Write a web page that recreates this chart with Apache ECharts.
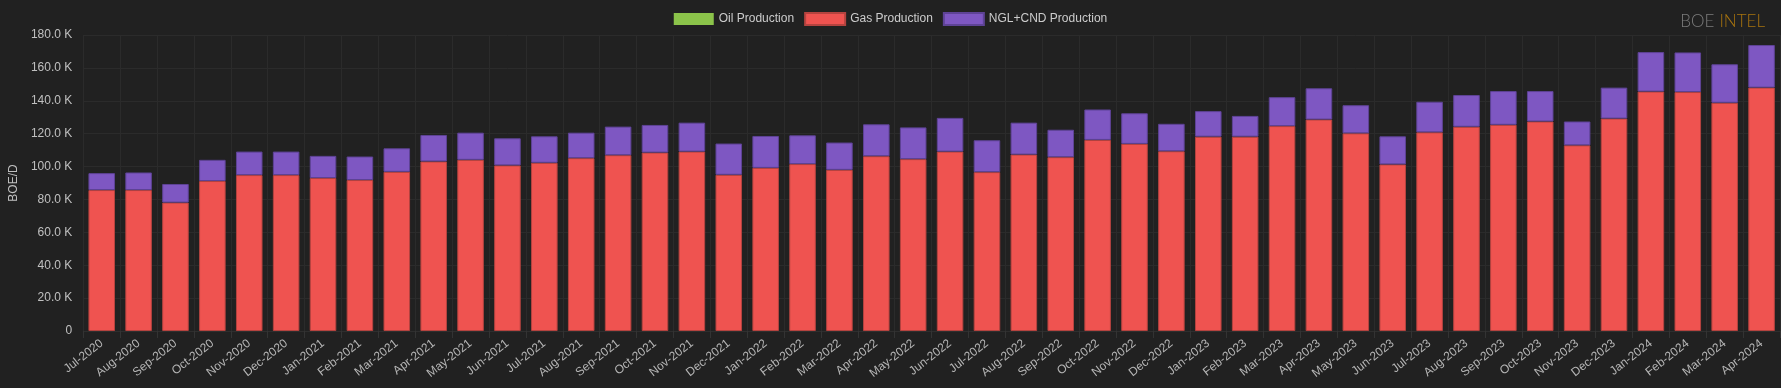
<!DOCTYPE html>
<html>
<head>
<meta charset="utf-8">
<script src="https://cdn.jsdelivr.net/npm/echarts@6/dist/echarts.min.js"></script>
<style>
html,body{margin:0;padding:0;background:#212121;}
#chart{width:1781px;height:388px;}
</style>
</head>
<body>
<div id="chart"></div>
<script>
const categories = ['Jul-2020','Aug-2020','Sep-2020','Oct-2020','Nov-2020','Dec-2020','Jan-2021','Feb-2021','Mar-2021','Apr-2021','May-2021','Jun-2021','Jul-2021','Aug-2021','Sep-2021','Oct-2021','Nov-2021','Dec-2021','Jan-2022','Feb-2022','Mar-2022','Apr-2022','May-2022','Jun-2022','Jul-2022','Aug-2022','Sep-2022','Oct-2022','Nov-2022','Dec-2022','Jan-2023','Feb-2023','Mar-2023','Apr-2023','May-2023','Jun-2023','Jul-2023','Aug-2023','Sep-2023','Oct-2023','Nov-2023','Dec-2023','Jan-2024','Feb-2024','Mar-2024','Apr-2024'];
const oilProduction = [0,0,0,0,0,0,0,0,0,0,0,0,0,0,0,0,0,0,0,0,0,0,0,0,0,0,0,0,0,0,0,0,0,0,0,0,0,0,0,0,0,0,0,0,0,0];
const gasProduction = [85700,85700,78100,91200,94800,94800,93000,91800,96800,103100,104100,100700,102300,105100,106900,108500,109100,95000,99200,101500,98000,106300,104500,109100,96600,107300,105700,116200,113800,109300,118200,118200,124600,128600,120200,101300,120800,124200,125400,127400,112900,129200,145600,145300,138800,148000];
const nglCndProduction = [10300,10700,11300,12900,14300,14300,13500,14300,14300,16100,16500,16500,16100,15500,17400,16800,17600,19000,19400,17500,16600,19400,19300,20500,19400,19400,16700,18500,18600,16700,15500,12600,17600,19000,17100,17100,18600,19300,20500,18500,14500,18800,24000,24100,23400,25900];
const seriesNames = ['Oil Production','Gas Production','NGL+CND Production'];
const yTicks = {min:0, max:180000, interval:20000};

const chart = echarts.init(document.getElementById('chart'), null, {renderer:'canvas'});
const font = 'Arial, "Liberation Sans", sans-serif';
chart.setOption({
  backgroundColor:'#212121',
  animation:false,
  textStyle:{fontFamily:font},
  title:{
    right:11, top:8,
    text:'{a|BOE} {b|INTEL}',
    textStyle:{
      rich:{
        a:{color:'#7c7c7c', fontSize:17, fontWeight:300, fontFamily:'Lato, "Open Sans", sans-serif'},
        b:{color:'#a8740f', fontSize:17, fontWeight:300, fontFamily:'Lato, "Open Sans", sans-serif'}
      }
    }
  },
  legend:{
    top:7, left:'center',
    icon:'rect',
    itemWidth:40, itemHeight:12, itemGap:10,
    textStyle:{color:'#cccccc', fontSize:12, fontFamily:font},
    data:seriesNames
  },
  grid:{left:78, right:1, top:35, bottom:57},
  xAxis:{
    type:'category',
    data:categories,
    axisLine:{show:true, lineStyle:{color:'#2e2e2e'}},
    axisTick:{show:true, length:7, lineStyle:{color:'#333333'}},
    splitLine:{show:true, interval:0, lineStyle:{color:'#2b2b2b'}},
    axisLabel:{rotate:38, interval:0, color:'#b5b5b5', fontSize:12, margin:11, fontFamily:font}
  },
  yAxis:{
    type:'value',
    min:yTicks.min, max:yTicks.max, interval:yTicks.interval,
    name:'BOE/D', nameLocation:'middle', nameGap:62,
    nameTextStyle:{color:'#c0c0c0', fontSize:12, fontFamily:font},
    axisLine:{show:false},
    axisTick:{show:false},
    splitLine:{show:true, lineStyle:{color:'#2b2b2b'}},
    axisLabel:{
      color:'#c0c0c0', fontSize:12, margin:11, fontFamily:font,
      formatter:function(v){ return v===0 ? '0' : (v/1000).toFixed(1)+' K'; }
    }
  },
  series:[
    {name:seriesNames[0], type:'bar', stack:'total', data:oilProduction, barCategoryGap:'28%',
     itemStyle:{color:'#8bc34a'}},
    {name:seriesNames[1], type:'bar', stack:'total', data:gasProduction, barCategoryGap:'28%',
     itemStyle:{color:'#ef5350', borderColor:'#b5433f', borderWidth:1}},
    {name:seriesNames[2], type:'bar', stack:'total', data:nglCndProduction, barCategoryGap:'28%',
     itemStyle:{color:'#7e57c2', borderColor:'#5e4396', borderWidth:1}}
  ]
});
</script>
</body>
</html>
